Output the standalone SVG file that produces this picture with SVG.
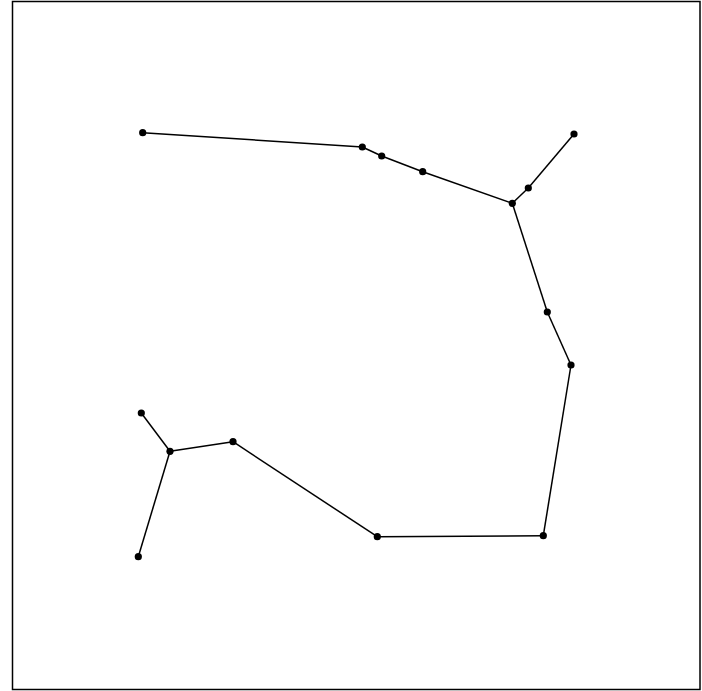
<svg xmlns="http://www.w3.org/2000/svg" width="702" height="691" viewBox="0 0 702 691">
<style>
.edge{stroke:#000;stroke-width:1.5;fill:none}
.node{fill:#000}
</style>
<rect x="0" y="0" width="702" height="691" fill="#fff"/>
<rect x="12.5" y="1.5" width="687.5" height="688" fill="none" stroke="#000" stroke-width="1.5"/>
<g id="connectors">
<line class="edge" x1="142.7" y1="132.7" x2="362.3" y2="147"/>
<line class="edge" x1="362.3" y1="147" x2="381.7" y2="156"/>
<line class="edge" x1="381.7" y1="156" x2="422.7" y2="171.7"/>
<line class="edge" x1="422.7" y1="171.7" x2="512.3" y2="203.3"/>
<line class="edge" x1="512.3" y1="203.3" x2="528.3" y2="188"/>
<line class="edge" x1="528.3" y1="188" x2="574" y2="134"/>
<line class="edge" x1="512.3" y1="203.3" x2="547.3" y2="312"/>
<line class="edge" x1="547.3" y1="312" x2="571" y2="365"/>
<line class="edge" x1="571" y1="365" x2="543.3" y2="535.7"/>
<line class="edge" x1="543.3" y1="535.7" x2="377.3" y2="536.7"/>
<line class="edge" x1="377.3" y1="536.7" x2="233" y2="441.7"/>
<line class="edge" x1="233" y1="441.7" x2="170" y2="451.3"/>
<line class="edge" x1="170" y1="451.3" x2="141.3" y2="413"/>
<line class="edge" x1="170" y1="451.3" x2="138.3" y2="556.7"/>
</g>
<g id="n1"><circle class="node" cx="142.7" cy="132.7" r="3.6"/></g>
<g id="n2"><circle class="node" cx="362.3" cy="147" r="3.6"/></g>
<g id="n3"><circle class="node" cx="381.7" cy="156" r="3.6"/></g>
<g id="n4"><circle class="node" cx="422.7" cy="171.7" r="3.6"/></g>
<g id="n5"><circle class="node" cx="512.3" cy="203.3" r="3.6"/></g>
<g id="n6"><circle class="node" cx="528.3" cy="188" r="3.6"/></g>
<g id="n7"><circle class="node" cx="574" cy="134" r="3.6"/></g>
<g id="n8"><circle class="node" cx="547.3" cy="312" r="3.6"/></g>
<g id="n9"><circle class="node" cx="571" cy="365" r="3.6"/></g>
<g id="n10"><circle class="node" cx="543.3" cy="535.7" r="3.6"/></g>
<g id="n11"><circle class="node" cx="377.3" cy="536.7" r="3.6"/></g>
<g id="n12"><circle class="node" cx="233" cy="441.7" r="3.6"/></g>
<g id="n13"><circle class="node" cx="170" cy="451.3" r="3.6"/></g>
<g id="n14"><circle class="node" cx="141.3" cy="413" r="3.6"/></g>
<g id="n15"><circle class="node" cx="138.3" cy="556.7" r="3.6"/></g>
</svg>
